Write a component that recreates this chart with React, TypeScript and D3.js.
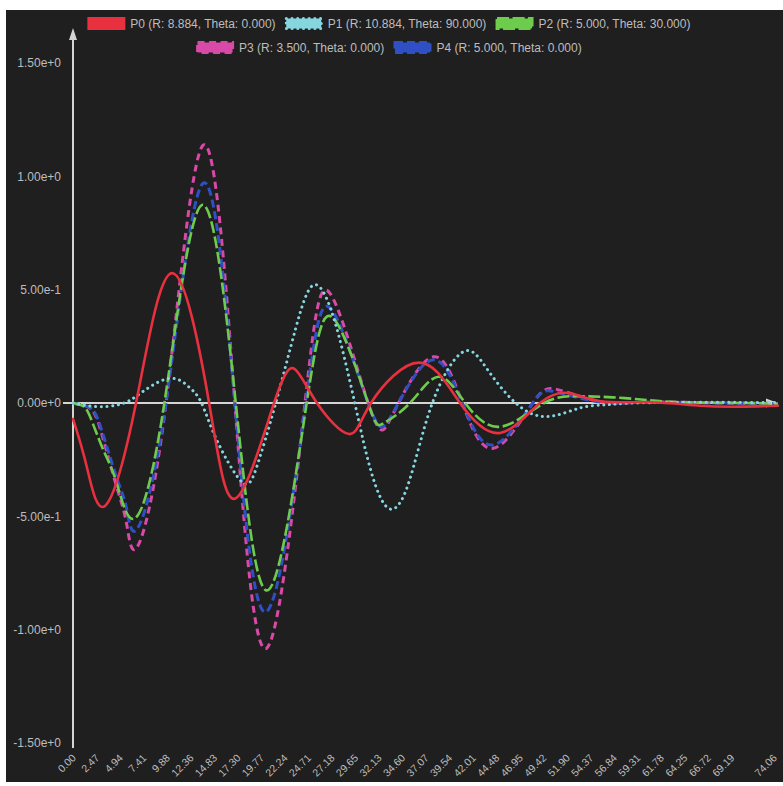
import React, { useMemo } from "react";
import * as d3 from "d3";

// ---- data -------------------------------------------------------------
const seriesNames = [
  "P0 (R: 8.884, Theta: 0.000)",
  "P1 (R: 10.884, Theta: 90.000)",
  "P2 (R: 5.000, Theta: 30.000)",
  "P3 (R: 3.500, Theta: 0.000)",
  "P4 (R: 5.000, Theta: 0.000)",
];

const p0Times = [0, 1.44, 3.36, 6.62, 10.4, 14.3, 17.12, 21.12, 23.32, 25.63, 29.0, 31.31, 36.35, 40.66, 44.86, 49.06, 52.21, 55.36, 60.62, 65.87, 70.07, 74.06];
const p0Values = [-0.07, -0.28, -0.454, 0, 0.573, 0, -0.42, 0, 0.149, 0, -0.137, 0, 0.178, 0, -0.132, 0, 0.043, 0.008, 0.003, -0.012, -0.016, -0.012];

const p1Times = [0, 2.4, 4.5, 6.0, 7.5, 10.19, 12.2, 13.5, 15.1, 17.72, 19.3, 21.3, 23.4, 25.24, 27.35, 29.6, 31.3, 33.12, 35.2, 37.75, 41.0, 43.5, 46.5, 49.76, 53.26, 56.0, 59.0, 66.0, 74.06];
const p1Values = [0, -0.016, -0.01, 0.012, 0.055, 0.109, 0.07, 0, -0.163, -0.347, -0.282, 0, 0.33, 0.52, 0.38, 0, -0.3, -0.464, -0.36, 0, 0.226, 0.15, 0, -0.06, -0.022, -0.008, 0, 0.003, 0.002];

const p2Times = [0, 1.0, 1.79, 3.18, 4.59, 6.51, 9.6, 13.52, 17.1, 20.52, 24.55, 27.35, 31.0, 32.6, 35.4, 38.38, 41.2, 44.86, 49.5, 53.26, 56.7, 60.3, 64.0, 70.0, 74.06];
const p2Values = [0, -0.012, -0.06, -0.207, -0.353, -0.509, 0, 0.873, 0, -0.825, 0, 0.374, 0, -0.09, 0, 0.116, 0, -0.105, 0, 0.03, 0.025, 0.013, 0.003, 0, -0.003];

const p3Times = [0, 1.0, 2.13, 3.18, 4.59, 5.64, 6.75, 9.77, 13.69, 17.0, 20.35, 24.37, 27.0, 31.0, 32.78, 34.2, 37.85, 40.9, 44.15, 48.3, 50.81, 54.6, 57.5, 62.0, 68.0, 74.06];
const p3Values = [0, -0.01, -0.038, -0.16, -0.37, -0.535, -0.635, 0, 1.138, 0, -1.082, 0, 0.484, 0, -0.11, 0, 0.204, 0, -0.2, 0, 0.06, 0.013, 0, 0.004, 0, -0.002];

const p4Times = [0, 1.0, 2.13, 3.18, 4.59, 5.64, 6.75, 9.77, 13.69, 17.0, 20.35, 24.45, 27.1, 31.0, 32.7, 34.2, 37.75, 40.9, 44.15, 48.3, 50.6, 54.5, 57.5, 62.0, 74.06];
const p4Values = [0, -0.009, -0.033, -0.142, -0.33, -0.468, -0.555, 0, 0.97, 0, -0.92, 0, 0.415, 0, -0.1, 0, 0.19, 0, -0.185, 0, 0.05, 0.01, 0, 0.003, -0.002];

const yTickValues = [1.5, 1.0, 0.5, 0, -0.5, -1.0, -1.5];
const yTickLabels = ["1.50e+0", "1.00e+0", "5.00e-1", "0.00e+0", "-5.00e-1", "-1.00e+0", "-1.50e+0"];

const xTickLabels = [
  "0.00", "2.47", "4.94", "7.41", "9.88", "12.36", "14.83", "17.30", "19.77", "22.24",
  "24.71", "27.18", "29.65", "32.13", "34.60", "37.07", "39.54", "42.01", "44.48", "46.95",
  "49.42", "51.90", "54.37", "56.84", "59.31", "61.78", "64.25", "66.72", "69.19", "74.06",
];

// ---- styling ----------------------------------------------------------
const W = 783;
const H = 786;
const FONT = "'Liberation Sans', Arial, Helvetica, sans-serif";
const BG = "#1f1f1f";
const AXIS = "#d4d4d4";
const LABEL = "#bdbdbd";

const colors = ["#e8303f", "#86d6e0", "#6dcc4c", "#d94aa8", "#2f50c4"];
const dashes = ["", "0.1 5.6", "12 3.5", "7 4.5", "8 4"];
const widths = [2.6, 3, 2.6, 3, 3];
const caps = ["round", "round", "butt", "butt", "butt"];

const legendRows = [[0, 1, 2], [3, 4]];

function measure(text: string, size: number): number {
  const ctx = document.createElement("canvas").getContext("2d");
  if (!ctx) return text.length * size * 0.5;
  ctx.font = `${size}px ${FONT}`;
  return ctx.measureText(text).width;
}

export default function App() {
  const x = d3.scaleLinear().domain([0, 74.06]).range([73, 778]);
  const y = d3.scaleLinear().domain([-1.5, 1.5]).range([743, 63]);

  const series = [
    [p0Times, p0Values],
    [p1Times, p1Values],
    [p2Times, p2Values],
    [p3Times, p3Values],
    [p4Times, p4Values],
  ].map(([ts, vs]) => ts.map((t, i) => [t, vs[i]] as [number, number]));

  const line = d3
    .line<[number, number]>()
    .x((d) => x(d[0]))
    .y((d) => y(d[1]))
    .curve(d3.curveNatural);

  const legendSize = 12;
  const swW = 35;
  const swH = 10;
  const legend = useMemo(() => {
    const items: { idx: number; x: number; y: number }[] = [];
    legendRows.forEach((row, r) => {
      const ws = row.map((i) => swW + 3 + 5 + measure(seriesNames[i], legendSize));
      const total = d3.sum(ws) + 9 * (row.length - 1);
      let cx = 389 - total / 2;
      row.forEach((i, k) => {
        items.push({ idx: i, x: cx, y: 23.5 + r * 24 });
        cx += ws[k] + 9;
      });
    });
    return items;
  }, []);

  const drawOrder = [3, 4, 2, 1, 0];

  return (
    <svg
      width={W}
      height={H}
      style={{ position: "absolute", left: 0, top: 0, fontFamily: FONT }}
    >
      <rect x={0} y={0} width={W} height={H} fill="#ffffff" />
      <rect x={6} y={10} width={W - 6} height={H - 14} fill={BG} />

      {/* y axis */}
      <line x1={x(0)} x2={x(0)} y1={748} y2={36} stroke={AXIS} strokeWidth={2} />
      <path d={`M${x(0)},28 L${x(0) - 4},40 L${x(0) + 4},40 Z`} fill={AXIS} />
      {yTickValues.map((v, i) => (
        <text
          key={v}
          x={61}
          y={y(v)}
          dy="0.35em"
          textAnchor="end"
          fontSize={12}
          fill={LABEL}
        >
          {yTickLabels[i]}
        </text>
      ))}

      {/* x axis along zero */}
      <line x1={63} x2={768} y1={y(0)} y2={y(0)} stroke={AXIS} strokeWidth={2} />
      <path d={`M778,${y(0)} L766,${y(0) - 4.5} L766,${y(0) + 4.5} Z`} fill={AXIS} />
      {xTickLabels.map((lbl, i) => (
        <text
          key={lbl}
          transform={`translate(${x(parseFloat(lbl)) + (i === xTickLabels.length - 1 ? -3 : 1)},756) rotate(-45)`}
          dy="0.35em"
          textAnchor="end"
          fontSize={10.5}
          fill={LABEL}
        >
          {lbl}
        </text>
      ))}

      {/* series */}
      {drawOrder.map((i) => (
        <path
          key={i}
          d={line(series[i]) || ""}
          fill="none"
          stroke={colors[i]}
          strokeWidth={widths[i]}
          strokeDasharray={dashes[i] || undefined}
          strokeLinecap={caps[i] as any}
          strokeLinejoin="round"
        />
      ))}

      {/* legend */}
      {legend.map(({ idx, x: lx, y: ly }) => (
        <g key={idx} transform={`translate(${lx},${ly})`}>
          <rect
            x={1.5}
            y={-swH / 2}
            width={swW}
            height={swH}
            fill={colors[idx]}
            stroke={colors[idx]}
            strokeWidth={3}
            strokeDasharray={dashes[idx] || undefined}
            strokeLinecap={caps[idx] as any}
          />
          <text
            x={swW + 3 + 5}
            y={0}
            dy="0.35em"
            fontSize={legendSize}
            fill={LABEL}
          >
            {seriesNames[idx]}
          </text>
        </g>
      ))}
    </svg>
  );
}
